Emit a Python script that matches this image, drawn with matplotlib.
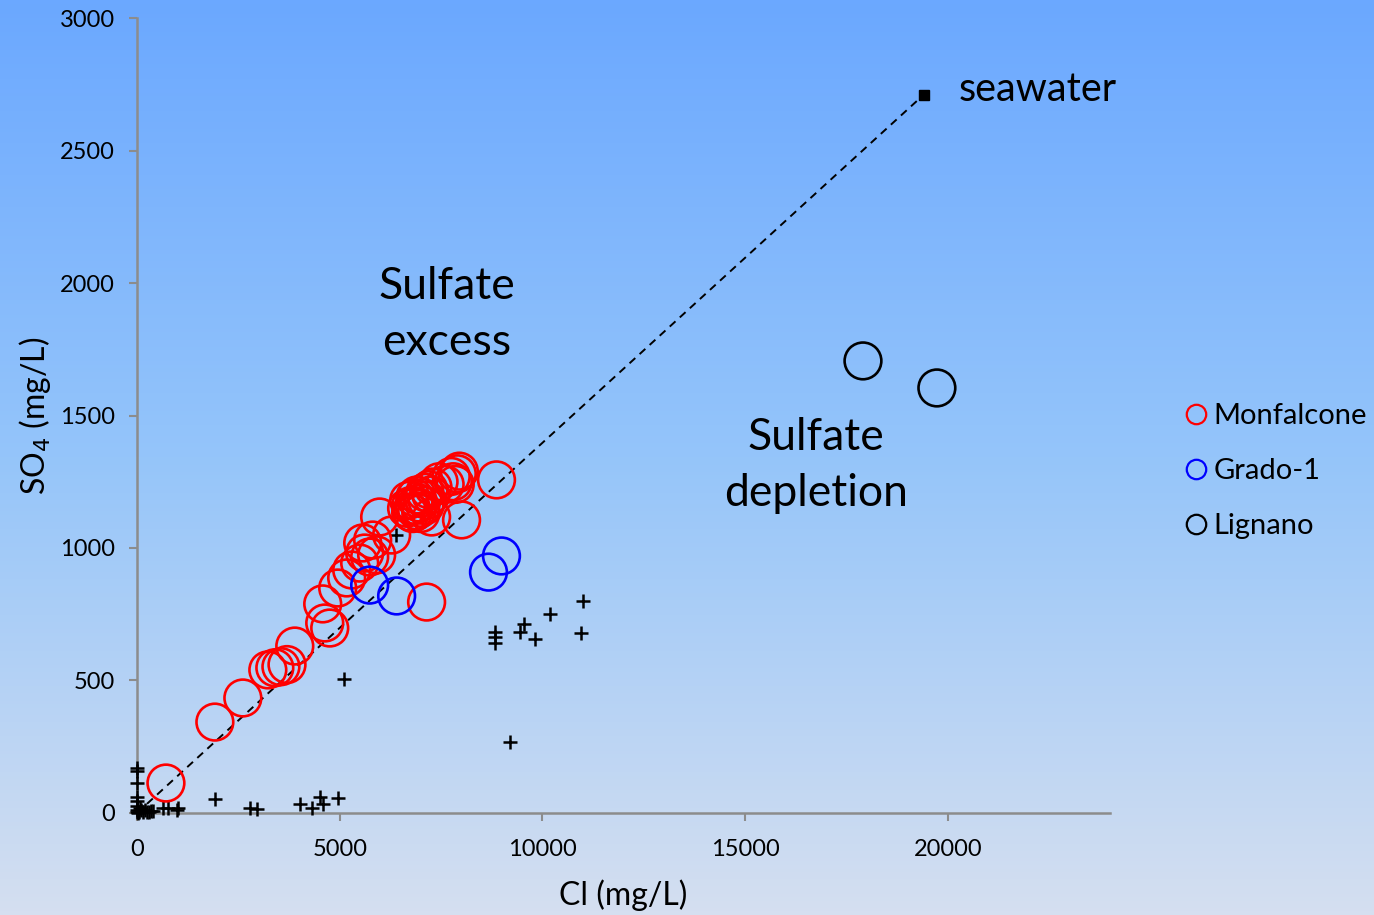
import matplotlib
matplotlib.use('Agg')
import matplotlib.pyplot as plt
import numpy as np
from matplotlib.lines import Line2D
from matplotlib.colors import LinearSegmentedColormap

plt.rcParams['font.family'] = ['Lato', 'DejaVu Sans']

# Monfalcone wells (Cl, SO4 in mg/L)
monf_cl = [714, 1921, 2611, 3227, 3400, 3550, 3700, 3892,
           4581, 4631, 4754, 4951, 5172, 5296, 5493, 5616, 5739, 5911, 5567, 5985, 6281, 5813,
           6650, 6700, 6750, 6800, 6850, 6900, 6950, 6900, 7000, 7050, 7100, 7150, 7200, 7250,
           7300, 6750, 6850, 7000, 7100, 7266,
           7450, 7600, 7750, 7850, 7900, 7950, 7800,
           8005, 8867, 7143]
monf_so4 = [113, 343, 434, 540, 548, 552, 560, 630,
            789, 717, 698, 849, 887, 917, 943, 981, 966, 974, 1019, 1117, 1049, 1030,
            1150, 1180, 1160, 1130, 1190, 1140, 1170, 1200, 1150, 1190, 1210, 1180, 1220, 1200,
            1230, 1135, 1160, 1130, 1160, 1117,
            1250, 1240, 1270, 1240, 1280, 1290, 1250,
            1106, 1257, 796]

# Grado-1
grado_cl = [5739, 6404, 8670, 8990]
grado_so4 = [860, 819, 909, 970]

# Lignano
lign_cl = [17906, 19729]
lign_so4 = [1706, 1604]

# other samples
oth_cl = [0, 0, 0, 0, 0, 0, 0, 0, 20, 50, 80, 100, 150, 200, 250, 300, 350, 400,
          650, 760, 985, 1000, 1921, 2783, 2956, 4015, 4310, 4507, 4581, 4951,
          6379, 5099, 8842, 8842, 8842, 9458, 9557, 9828, 10197, 11010, 10960, 9212]
oth_so4 = [170, 160, 113, 60, 45, 25, 10, 5, 0, 5, 20, 10, 5, 10, 3, 5, 8, 6,
           19, 19, 11, 20, 53, 19, 15, 34, 19, 60, 34, 57,
           1049, 506, 683, 664, 642, 683, 713, 657, 751, 800, 679, 268]

# seawater end-member
sw_cl = 19400
sw_so4 = 2710

fig = plt.figure(figsize=(13.74, 9.15), dpi=100)

# background gradient
bg = fig.add_axes([0, 0, 1, 1], zorder=-10)
grad_cmap = LinearSegmentedColormap.from_list(
    'bg', [(0.0, '#6ba8ff'), (0.5, '#95c5fa'), (1.0, '#d5dff0')])
bg.imshow(np.linspace(0, 1, 256).reshape(-1, 1), aspect='auto', cmap=grad_cmap,
          extent=[0, 1, 0, 1])
bg.axis('off')

ax = fig.add_axes([0.0997, 0.1115, 0.7082, 0.8688])
ax.patch.set_alpha(0)

ax.plot([0, sw_cl], [0, sw_so4], color='black', lw=1.4, ls=(0, (4, 3)), zorder=2)
ax.plot([sw_cl], [sw_so4], marker='s', color='black', ms=7, zorder=4)

ax.scatter(oth_cl, oth_so4, marker='+', s=100, color='black', linewidths=1.8,
           zorder=3, clip_on=False)
ax.scatter(monf_cl, monf_so4, s=700, facecolors='none', edgecolors='#ff0000',
           linewidths=1.9, zorder=3)
ax.scatter(grado_cl, grado_so4, s=700, facecolors='none', edgecolors='#0000ff',
           linewidths=1.9, zorder=3)
ax.scatter(lign_cl, lign_so4, s=700, facecolors='none', edgecolors='black',
           linewidths=1.9, zorder=3)

ax.set_xlim(0, 24000)
ax.set_ylim(0, 3000)
ax.set_xticks([0, 5000, 10000, 15000, 20000])
ax.set_yticks([0, 500, 1000, 1500, 2000, 2500, 3000])

for side in ['top', 'right']:
    ax.spines[side].set_visible(False)
for side in ['left', 'bottom']:
    ax.spines[side].set_color('#8c8c8c')
    ax.spines[side].set_linewidth(1.8)
ax.tick_params(direction='out', length=6, width=1.5, color='#8c8c8c',
               labelsize=17)
ax.tick_params(axis='x', pad=13)
ax.tick_params(axis='y', pad=10)

ax.set_xlabel('Cl (mg/L)', fontsize=23, labelpad=14)
ax.set_ylabel('SO$_4$ (mg/L)', fontsize=23, labelpad=5)

ax.text(sw_cl + 860, sw_so4 + 20, 'seawater', fontsize=28.5, va='center', ha='left')
ax.text(7650, 1880, 'Sulfate\nexcess', fontsize=32, ha='center', va='center',
        linespacing=1.45)
ax.text(16750, 1310, 'Sulfate\ndepletion', fontsize=32, ha='center', va='center',
        linespacing=1.45)

handles = [
    Line2D([], [], ls='none', marker='o', ms=14, mfc='none', mec='#ff0000', mew=1.6),
    Line2D([], [], ls='none', marker='o', ms=14, mfc='none', mec='#0000ff', mew=1.6),
    Line2D([], [], ls='none', marker='o', ms=14, mfc='none', mec='black', mew=1.6),
]
fig.legend(handles, ['Monfalcone', 'Grado-1', 'Lignano'], loc='center left',
           bbox_to_anchor=(0.8535, 0.485), frameon=False, fontsize=21,
           handlelength=0.6, handletextpad=0.3, labelspacing=1.0, borderpad=0)

fig.savefig('out.png', dpi=100)
